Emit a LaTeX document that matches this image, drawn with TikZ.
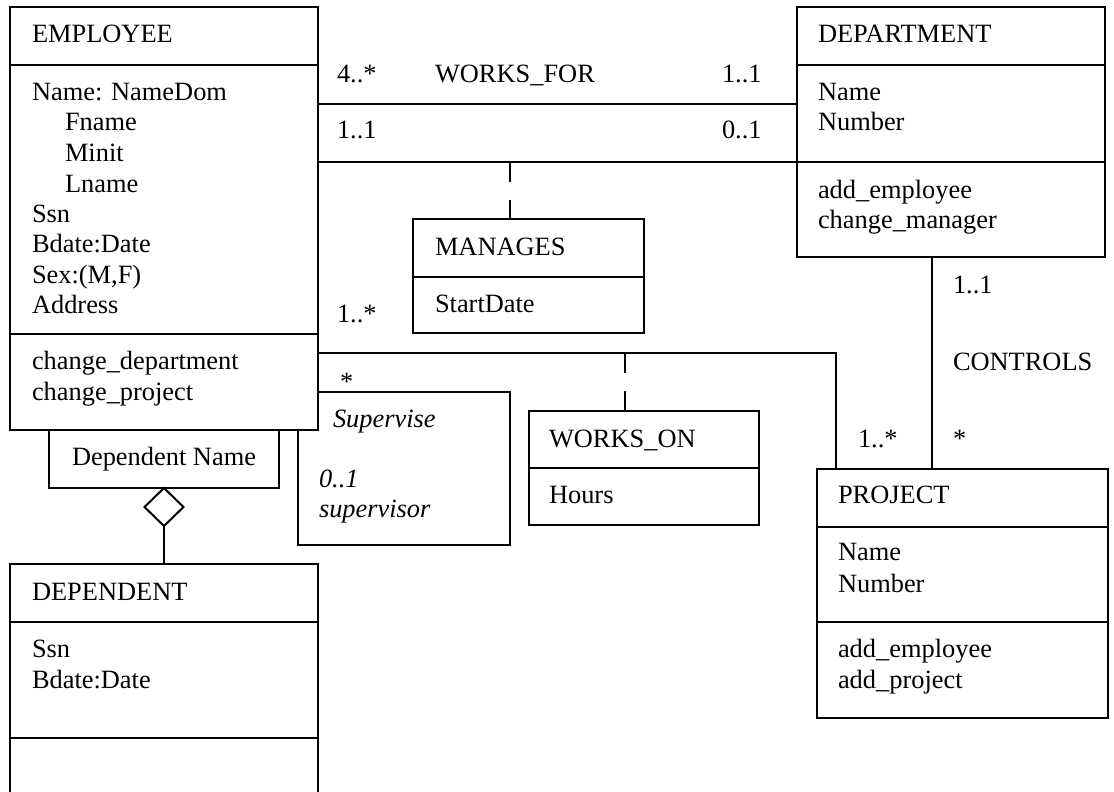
\documentclass[tikz,border=0pt]{standalone}
\usepackage{fontspec}
\setmainfont{Liberation Serif}
\usetikzlibrary{shapes.geometric}
\tikzset{
  cls/.style={draw, line width=2pt, inner sep=0pt, outer sep=0pt, anchor=north west},
  lbl/.style={anchor=base west, inner sep=0pt, outer sep=0pt},
  ilbl/.style={lbl, font=\fontsize{26.4}{30.4}\selectfont\itshape},
  conn/.style={line width=2pt},
  dashconn/.style={line width=2pt, dash pattern=on 20pt off 18pt},
}
\begin{document}
\begin{tikzpicture}[x=1pt, y=-1pt, font=\fontsize{26.4}{30.4}\selectfont]
\useasboundingbox (0,0) rectangle (1114,792);
\clip (0,0) rectangle (1114,792);
% classes
\node[cls, minimum width=308pt, minimum height=423pt] (emp) at (10,7){};
\draw[conn] (emp.west |- 0,65) -- (emp.east |- 0,65);
\draw[conn] (emp.west |- 0,334) -- (emp.east |- 0,334);
\node[lbl] (empt) at (32,43){EMPLOYEE};
\node[lbl] (empa1) at (32,100){Name: NameDom};
\node[lbl] (empa2) at (65,130){Fname};
\node[lbl] (empa3) at (65,161){Minit};
\node[lbl] (empa4) at (65,192){Lname};
\node[lbl] (empa5) at (32,222){Ssn};
\node[lbl] (empa6) at (32,252){Bdate:Date};
\node[lbl] (empa7) at (32,283){Sex:(M,F)};
\node[lbl] (empa8) at (32,313){Address};
\node[lbl] (empo1) at (32,369){change\_department};
\node[lbl] (empo2) at (32,400){change\_project};
\node[cls, minimum width=308pt, minimum height=250pt] (dept) at (797,7){};
\draw[conn] (dept.west |- 0,65) -- (dept.east |- 0,65);
\draw[conn] (dept.west |- 0,162) -- (dept.east |- 0,162);
\node[lbl] (deptt) at (818,43){DEPARTMENT};
\node[lbl] (depta1) at (818,100){Name};
\node[lbl] (depta2) at (818,130){Number};
\node[lbl] (depto1) at (818,198){add\_employee};
\node[lbl] (depto2) at (818,228){change\_manager};
\node[cls, minimum width=231pt, minimum height=114pt] (mgr) at (413,219){};
\draw[conn] (mgr.west |- 0,277) -- (mgr.east |- 0,277);
\node[lbl] (mgrt) at (435,255){MANAGES};
\node[lbl] (mgra1) at (435,312){StartDate};
\node[cls, minimum width=230pt, minimum height=114pt] (won) at (529,411){};
\draw[conn] (won.west |- 0,468) -- (won.east |- 0,468);
\node[lbl] (wont) at (549,447){WORKS\_ON};
\node[lbl] (wona1) at (549,503){Hours};
\node[cls, minimum width=291pt, minimum height=249pt] (proj) at (817,469){};
\draw[conn] (proj.west |- 0,527) -- (proj.east |- 0,527);
\draw[conn] (proj.west |- 0,622) -- (proj.east |- 0,622);
\node[lbl] (projt) at (838,503){PROJECT};
\node[lbl] (proja1) at (838,560){Name};
\node[lbl] (proja2) at (838,592){Number};
\node[lbl] (projo1) at (838,657){add\_employee};
\node[lbl] (projo2) at (838,688){add\_project};
\node[cls, minimum width=308pt, minimum height=260pt] (dep) at (10,564){};
\draw[conn] (dep.west |- 0,622) -- (dep.east |- 0,622);
\draw[conn] (dep.west |- 0,738) -- (dep.east |- 0,738);
\node[lbl] (dept2) at (32,600){DEPENDENT};
\node[lbl] (depa1) at (32,657){Ssn};
\node[lbl] (depa2) at (32,688){Bdate:Date};
% qualifier and aggregation
\node[cls, minimum width=230pt, minimum height=58pt] (qual) at (49,430){Dependent Name};
\node[diamond, draw, line width=2pt, inner sep=0pt, outer sep=0pt, minimum width=39pt, minimum height=38pt, anchor=north] (diam) at (qual.south){};
\draw[conn] (diam) -- (dep);
% associations
\coordinate (mgrjoin) at (510,162);
\coordinate (wojoin) at (625,353);
\coordinate (wocorner) at (836,353);
\draw[conn] (emp.east |- 0,104) -- (dept.west |- 0,104);
\draw[conn] (emp.east |- mgrjoin) -- (dept.west |- mgrjoin);
\draw[dashconn] (mgrjoin) -- (mgrjoin |- mgr.north);
\draw[conn] (emp.east |- wocorner) -- (wocorner) -- (wocorner |- proj.north);
\draw[dashconn] (wojoin) -- (wojoin |- won.north);
\draw[conn] (dept.south -| 932,0) -- (proj.north -| 932,0);
\draw[conn] (emp.east |- 0,392) -| (510,545) -| (emp.south -| 298,0);
% multiplicities and names
\node[lbl] (wf1) at (337,82){4..*};
\node[lbl] (wfname) at (435,82){WORKS\_FOR};
\node[lbl] (wf2) at (722,82){1..1};
\node[lbl] (mg1) at (337,138){1..1};
\node[lbl] (mg2) at (722,138){0..1};
\node[lbl] (wo1) at (337,322){1..*};
\node[lbl] (wo2) at (858,447){1..*};
\node[lbl] (ct1) at (953,293){1..1};
\node[lbl] (ctname) at (953,370){CONTROLS};
\node[lbl] (ct2) at (953,447){*};
\node[lbl] (sv1) at (340,390){*};
\node[ilbl] (svname) at (333,427){Supervise};
\node[ilbl] (sv2) at (319,487){0..1};
\node[ilbl] (sv3) at (319,517){supervisor};
\end{tikzpicture}
\end{document}
